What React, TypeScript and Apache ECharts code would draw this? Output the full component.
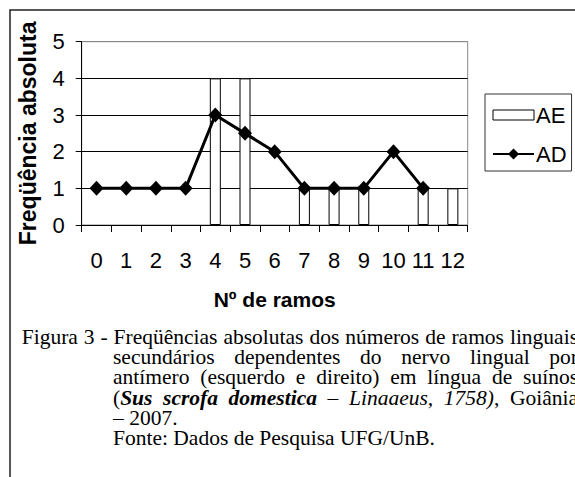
import React, { useEffect, useRef } from "react";
import * as echarts from "echarts";

const categories = ["0", "1", "2", "3", "4", "5", "6", "7", "8", "9", "10", "11", "12"];
const aeValues = [0, 0, 0, 0, 4, 4, 0, 1, 1, 1, 0, 1, 1];
const adValues: (number | null)[] = [1, 1, 1, 1, 3, 2.5, 2, 1, 1, 1, 2, 1, null];
const seriesNames = ["AE", "AD"];
const yMin = 0;
const yMax = 5;
const yInterval = 1;
const xTitle = "Nº de ramos";
const yTitle = "Freqüência absoluta";

type Seg = [string, "n" | "i" | "bi"];
const plainWords = (s: string): Seg[][] => s.split(" ").map((w) => [[w, "n"] as Seg]);
const captionJustified: Seg[][][] = [
  plainWords("Figura 3 - Freqüências absolutas dos números de ramos linguais"),
  plainWords("secundários dependentes do nervo lingual por"),
  plainWords("antímero (esquerdo e direito) em língua de suínos"),
  [
    [["(", "n"], ["Sus", "bi"]],
    [["scrofa", "bi"]],
    [["domestica", "bi"]],
    [["–", "i"]],
    [["Linaaeus,", "i"]],
    [["1758)", "i"], [",", "n"]],
    [["Goiânia", "n"]],
  ],
];
const captionPlain = ["– 2007.", "Fonte: Dados de Pesquisa UFG/UnB."];

const SANS = "'Liberation Sans', Arial, sans-serif";
const SERIF = "'Liberation Serif', 'Times New Roman', serif";
const CAP_SIZE = 21.5;
const CAP_LH = 19;

export default function App() {
  const ref = useRef<HTMLDivElement>(null);
  useEffect(() => {
    if (!ref.current) return;
    const chart = echarts.init(ref.current, undefined, { renderer: "svg" });

    const ctx = document.createElement("canvas").getContext("2d")!;
    const fontOf = (s: string) =>
      `${s === "n" ? "" : "italic "}${s === "bi" ? "bold " : ""}${CAP_SIZE}px "Liberation Serif"`;
    const measure = (t: string, s: string) => {
      ctx.font = fontOf(s);
      return ctx.measureText(t).width;
    };
    const rich = {
      n: { fontFamily: SERIF, fontSize: CAP_SIZE, lineHeight: CAP_LH, fill: "#000" },
      i: { fontFamily: SERIF, fontSize: CAP_SIZE, lineHeight: CAP_LH, fontStyle: "italic", fill: "#000" },
      bi: {
        fontFamily: SERIF,
        fontSize: CAP_SIZE,
        lineHeight: CAP_LH,
        fontStyle: "italic",
        fontWeight: "bold",
        fill: "#000",
      },
    };

    const graphics: any[] = [
      {
        type: "polyline",
        shape: { points: [[575, 10], [10, 10], [10, 477]] },
        style: { stroke: "#222", lineWidth: 1.5, fill: null },
        silent: true,
      },
    ];
    const baseline0 = 344;
    const lineStep = 20.2;
    captionJustified.forEach((words, li) => {
      const startX = li === 0 ? 21.7 : 113;
      const endX = 578;
      const widths = words.map((w) => w.reduce((a, [t, s]) => a + measure(t, s), 0));
      const total = widths.reduce((a, b) => a + b, 0);
      const gap = (endX - startX - total) / (words.length - 1);
      let x = startX;
      words.forEach((w, wi) => {
        graphics.push({
          type: "text",
          x,
          y: baseline0 + li * lineStep - 7,
          style: {
            text: w.map(([t, s]) => `{${s}|${t}}`).join(""),
            rich,
            verticalAlign: "middle",
            align: "left",
          },
          silent: true,
        });
        x += widths[wi] + gap;
      });
    });
    captionPlain.forEach((t, i) => {
      graphics.push({
        type: "text",
        x: 113,
        y: baseline0 + (4 + i) * lineStep - 7,
        style: {
          text: t,
          fontFamily: SERIF,
          fontSize: CAP_SIZE,
          lineHeight: CAP_LH,
          fill: "#000",
          verticalAlign: "middle",
          align: "left",
        },
        silent: true,
      });
    });

    chart.setOption({
      animation: false,
      backgroundColor: "#fff",
      grid: {
        left: 81.7,
        top: 41.7,
        right: 107.3,
        bottom: 252,
        show: true,
        borderColor: "#888",
        borderWidth: 1,
        backgroundColor: "transparent",
        containLabel: false,
      },
      legend: {
        orient: "vertical",
        left: 485,
        top: 94,
        padding: [10, 5, 6, 7],
        itemGap: 17,
        itemWidth: 41,
        itemHeight: 14,
        borderColor: "#333",
        borderWidth: 1,
        borderRadius: 0,
        backgroundColor: "#fff",
        textStyle: { fontSize: 22, fontFamily: SANS, color: "#000", padding: [0, 0, 0, -3] },
        data: [
          {
            name: seriesNames[0],
            icon: "path://M0,0H41V10H0Z",
            itemStyle: { color: "#fff", borderColor: "#000", borderWidth: 1 },
          },
          { name: seriesNames[1] },
        ],
      },
      xAxis: {
        type: "category",
        data: categories,
        boundaryGap: true,
        name: xTitle,
        nameLocation: "middle",
        nameGap: 64,
        nameTextStyle: { fontSize: 21, fontWeight: "bold", fontFamily: SANS, color: "#000" },
        axisLine: { show: true, lineStyle: { color: "#000", width: 1 } },
        axisTick: { show: true, length: 7, lineStyle: { color: "#000" } },
        axisLabel: { fontSize: 22, fontFamily: SANS, color: "#000", margin: 24, interval: 0 },
        splitLine: { show: false },
      },
      yAxis: {
        type: "value",
        min: yMin,
        max: yMax,
        interval: yInterval,
        name: yTitle,
        nameLocation: "middle",
        nameRotate: 90,
        nameGap: 42,
        nameTextStyle: { fontSize: 23, fontWeight: "bold", fontFamily: SANS, color: "#000" },
        axisLine: { show: true, lineStyle: { color: "#000", width: 1 } },
        axisTick: { show: true, length: 6, lineStyle: { color: "#000" } },
        axisLabel: { fontSize: 22, fontFamily: SANS, color: "#000", margin: 17 },
        splitLine: {
          show: true,
          lineStyle: { color: ["#000", "#000", "#000", "#000", "#000", "#888"], width: 1 },
        },
      },
      series: [
        {
          name: seriesNames[0],
          type: "bar",
          data: aeValues.map((v) => (v === 0 ? null : v)),
          barWidth: 11,
          itemStyle: { color: "#fff", borderColor: "#000", borderWidth: 1 },
          z: 2,
        },
        {
          name: seriesNames[1],
          type: "line",
          data: adValues,
          symbol: "diamond",
          symbolSize: [14, 15],
          lineStyle: { color: "#000", width: 3 },
          itemStyle: { color: "#000" },
          z: 3,
        },
      ],
      graphic: graphics,
    });
    return () => chart.dispose();
  }, []);
  return (
    <div
      ref={ref}
      style={{ position: "absolute", left: 0, top: 0, width: 575, height: 477 }}
    />
  );
}
